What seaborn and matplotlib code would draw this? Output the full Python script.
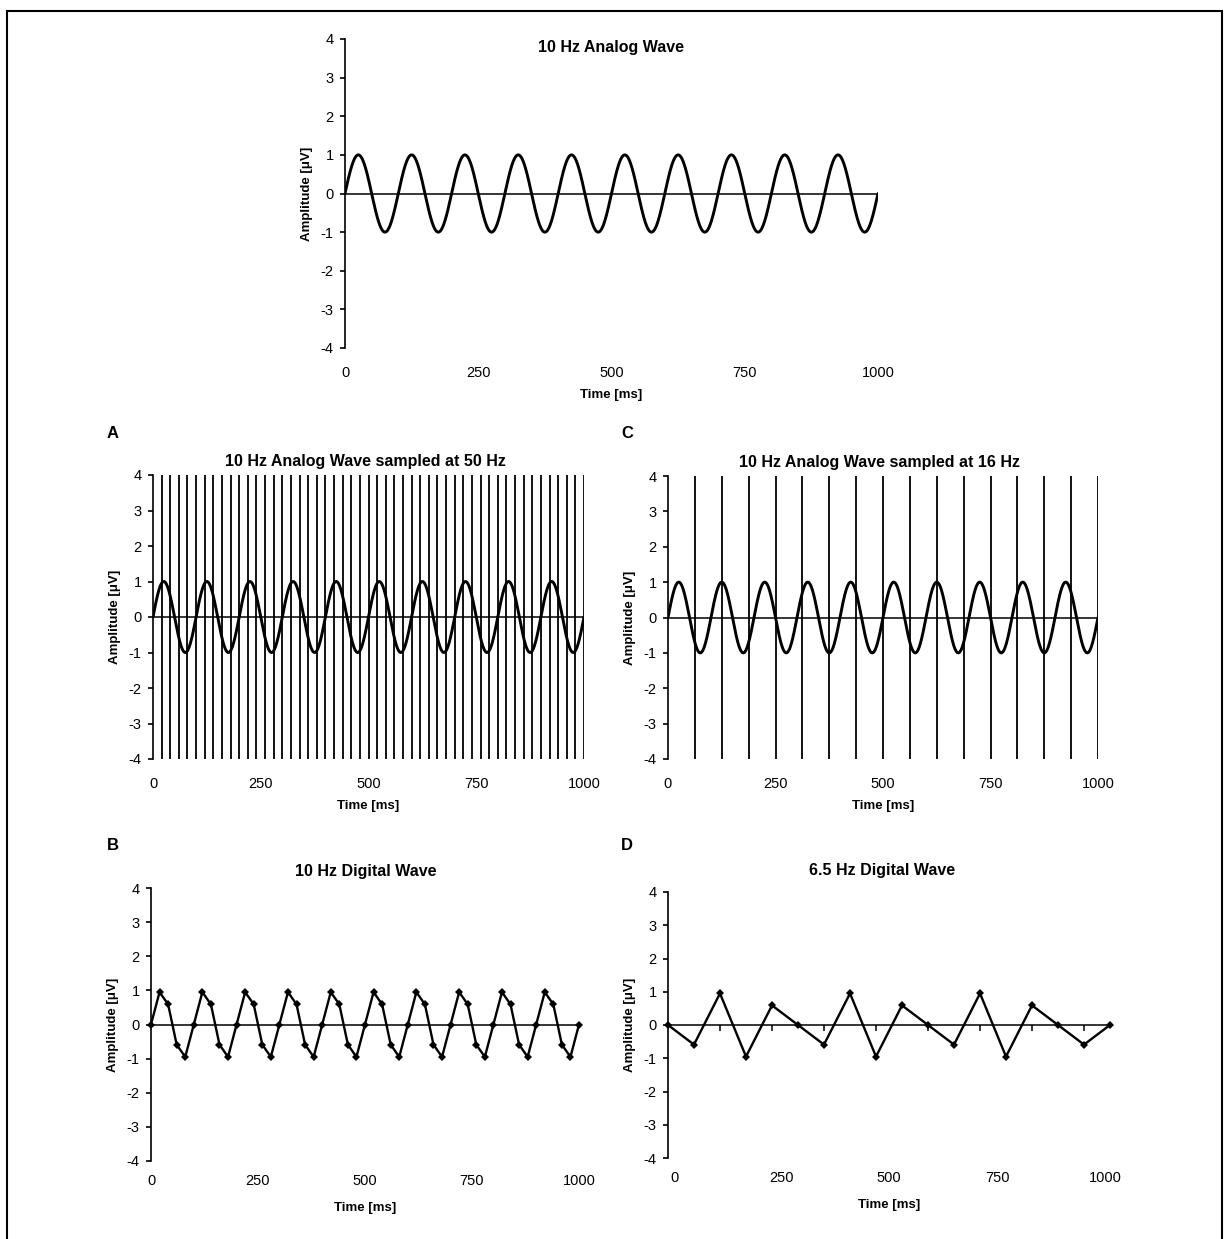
import numpy as np
import pandas as pd
import matplotlib
matplotlib.use("Agg")
import matplotlib.pyplot as plt
import seaborn as sns

sns.set_style("white")
plt.rcParams["font.family"] = ["Liberation Sans", "DejaVu Sans"]
plt.rcParams["axes.unicode_minus"] = False
plt.rcParams["text.color"] = "black"
plt.rcParams["axes.labelcolor"] = "black"

# 10 Hz analog wave, 1 uV amplitude, over one second
wave_freq_hz = 10
wave_amp_uv = 1.0
wave_duration_ms = 1000

# sampling instants drawn as vertical lines in A and C
sample_times_50hz = list(range(20, 1001, 20))
sample_times_16hz = [62.5, 125, 187.5, 250, 312.5, 375, 437.5, 500,
                     562.5, 625, 687.5, 750, 812.5, 875, 937.5, 1000]

# B: digital wave from the 50 Hz samples
digital_b_times = list(range(0, 1001, 20))
digital_b_values = [0, 0.95, 0.59, -0.59, -0.95] * 10 + [0]

# D: digital wave from the 16 Hz samples
digital_d_times = [0, 58.8, 117.6, 176.5, 235.3, 294.1, 352.9, 411.8, 470.6,
                   529.4, 588.2, 647.1, 705.9, 764.7, 823.5, 882.4, 941.2, 1000]
digital_d_values = [0, -0.59, 0.95, -0.95, 0.59, 0, -0.59, 0.95, -0.95,
                    0.59, 0, -0.59, 0.95, -0.95, 0.59, 0, -0.59, 0]
digital_d_axis_ticks = digital_d_times[2:-1:2]

x_ticks = [0, 250, 500, 750, 1000]
x_tick_labels = ["0", "250", "500", "750", "1000"]
d_label_positions = [14, 257, 500, 746, 990]
y_ticks = [4, 3, 2, 1, 0, -1, -2, -3, -4]

FIG_W, FIG_H = 1226, 1239


def make_axes(fig, left, top, right, bottom):
    """Axes from pixel box (left, top, right, bottom)."""
    return fig.add_axes([left / FIG_W, 1 - bottom / FIG_H,
                         (right - left) / FIG_W, (bottom - top) / FIG_H])


def style_axes(ax, box, title, title_pos, xpad, xtick_pos=None):
    w = box[2] - box[0]
    h = box[3] - box[1]
    ax.set_xlim(0, wave_duration_ms)
    ax.set_ylim(-4, 4)
    ax.axhline(0, color="black", lw=1.1, zorder=1)
    sns.despine(ax=ax, bottom=True)
    ax.spines["left"].set_linewidth(1.2)
    ax.spines["left"].set_color("black")
    ax.set_yticks(y_ticks, [str(v) for v in y_ticks])
    ax.set_xticks(xtick_pos if xtick_pos else x_ticks, x_tick_labels)
    ax.tick_params(axis="y", left=True, length=3.6, width=1.2, pad=4.5,
                   labelsize=10.5, colors="black")
    ax.tick_params(axis="x", length=0, pad=xpad, labelsize=10.5, colors="black")
    ax.set_xlabel("Time [ms]", fontsize=9.5, fontweight="bold")
    ax.set_ylabel("Amplitude [\u03bcV]", fontsize=9.5, fontweight="bold")
    ax.xaxis.set_label_coords(0.5, -41 / h)
    ax.yaxis.set_label_coords(-32 / w, 0.5)
    ax.text(title_pos[0], title_pos[1], title, transform=ax.transAxes,
            ha="center", va="center", fontsize=11.5, fontweight="bold")


t = np.linspace(0, wave_duration_ms, 2001)
analog = pd.DataFrame({
    "time": t,
    "amp": wave_amp_uv * np.sin(2 * np.pi * wave_freq_hz * t / 1000),
})

fig = plt.figure(figsize=(FIG_W / 100, FIG_H / 100), dpi=100)

# top: analog wave
box_top = (345, 39, 878, 348)
ax = make_axes(fig, *box_top)
sns.lineplot(data=analog, x="time", y="amp", ax=ax, color="black", lw=2.1,
             estimator=None)
style_axes(ax, box_top, "10 Hz Analog Wave", (0.5, 0.974), 13)

# A: sampled at 50 Hz
box_a = (153, 475, 584, 759)
ax = make_axes(fig, *box_a)
ax.vlines(sample_times_50hz, -4, 4, color="black", lw=1.3)
sns.lineplot(data=analog, x="time", y="amp", ax=ax, color="black", lw=2.1,
             estimator=None)
style_axes(ax, box_a, "10 Hz Analog Wave sampled at 50 Hz", (0.492, 1.049), 13)

# C: sampled at 16 Hz
box_c = (668, 476, 1098, 759)
ax = make_axes(fig, *box_c)
ax.vlines(sample_times_16hz, -4, 4, color="black", lw=1.3)
sns.lineplot(data=analog, x="time", y="amp", ax=ax, color="black", lw=2.1,
             estimator=None)
style_axes(ax, box_c, "10 Hz Analog Wave sampled at 16 Hz", (0.493, 1.049), 13)

# B: 10 Hz digital wave
box_b = (151, 888, 579, 1161)
ax = make_axes(fig, *box_b)
sns.lineplot(x=digital_b_times, y=digital_b_values, ax=ax, color="black",
             lw=1.7, marker="D", markersize=4, markeredgewidth=0,
             estimator=None, clip_on=False)
style_axes(ax, box_b, "10 Hz Digital Wave", (0.5015, 1.062), 9.4)

# D: 6.5 Hz digital wave
box_d = (668, 892, 1110, 1158)
ax = make_axes(fig, *box_d)
ax.vlines(digital_d_axis_ticks, -0.17, 0, color="black", lw=1.1)
sns.lineplot(x=digital_d_times, y=digital_d_values, ax=ax, color="black",
             lw=1.7, marker="D", markersize=4, markeredgewidth=0,
             estimator=None, clip_on=False)
style_axes(ax, box_d, "6.5 Hz Digital Wave", (0.485, 1.079), 9.2,
           xtick_pos=d_label_positions)

# panel letters
for letter, (px, py) in {"A": (113, 433), "C": (627, 433),
                         "B": (113, 846), "D": (627, 846)}.items():
    fig.text(px / FIG_W, 1 - py / FIG_H, letter, ha="center", va="center",
             fontsize=12, fontweight="bold")

# outer frame
fig.add_artist(plt.Rectangle((7 / FIG_W, -0.01), (1222 - 7) / FIG_W,
                             1 - 11 / FIG_H + 0.01, transform=fig.transFigure,
                             fill=False, lw=1.5, ec="black"))

fig.savefig("out.png", dpi=100)
